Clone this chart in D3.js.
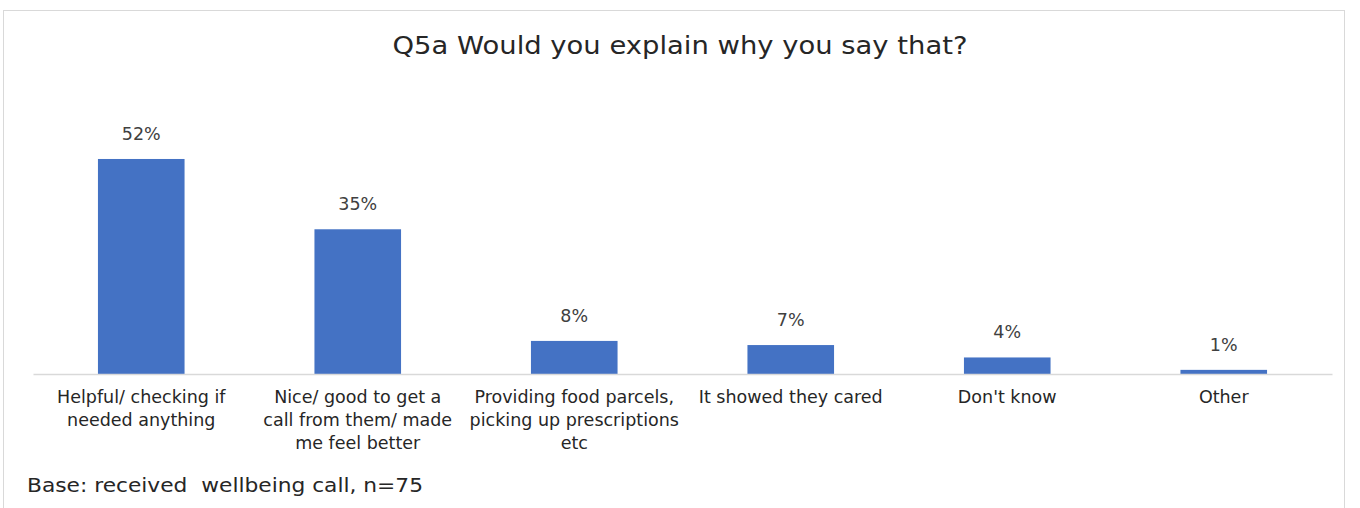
<!DOCTYPE html>
<html>
<head>
<meta charset="utf-8">
<script src="https://cdn.jsdelivr.net/npm/d3@7"></script>
<style>
  html, body { margin: 0; padding: 0; background: #fff; }
  svg { display: block; font-family: "DejaVu Sans", sans-serif; }
</style>
</head>
<body>
<svg id="chart" width="1360" height="508"></svg>
<script>
// Survey responses: reasons given for the wellbeing call rating
const categories = [
  ["Helpful/ checking if", "needed anything"],
  ["Nice/ good to get a", "call from them/ made", "me feel better"],
  ["Providing food parcels,", "picking up prescriptions", "etc"],
  ["It showed they cared"],
  ["Don't know"],
  ["Other"]
];
const values = [52, 35, 8, 7, 4, 1];
const valueLabels = ["52%", "35%", "8%", "7%", "4%", "1%"];
const titleText = "Q5a Would you explain why you say that?";
const footnote = "Base: received  wellbeing call, n=75";

const svg = d3.select("#chart");

// outer frame
svg.append("rect")
  .attr("x", 3.5).attr("y", 10.5)
  .attr("width", 1341).attr("height", 520)
  .attr("fill", "#fff").attr("stroke", "#d9d9d9").attr("stroke-width", 1);

const margin = { left: 33, right: 28 };
const width = 1360 - margin.left - margin.right;
const baseY = 374;

const x = d3.scaleBand()
  .domain(d3.range(categories.length))
  .range([margin.left, margin.left + width])
  .paddingInner(0.6)
  .paddingOuter(0.3);

const y = d3.scaleLinear()
  .domain([0, 60])
  .range([baseY, baseY - 60 * 4.135]);

// title
svg.append("text")
  .attr("x", 680).attr("y", 54)
  .attr("text-anchor", "middle")
  .attr("font-size", 25)
  .attr("textLength", 575)
  .attr("lengthAdjust", "spacingAndGlyphs")
  .attr("fill", "#262626")
  .text(titleText);

// bars
svg.selectAll("rect.bar")
  .data(values)
  .join("rect")
  .attr("class", "bar")
  .attr("x", (d, i) => x(i))
  .attr("width", x.bandwidth())
  .attr("y", d => y(d))
  .attr("height", d => y(0) - y(d))
  .attr("fill", "#4472c4");

// value labels
svg.selectAll("text.val")
  .data(values)
  .join("text")
  .attr("class", "val")
  .attr("x", (d, i) => x(i) + x.bandwidth() / 2)
  .attr("y", d => y(d) - 19)
  .attr("text-anchor", "middle")
  .attr("font-size", 17.5)
  .attr("fill", "#404040")
  .text((d, i) => valueLabels[i]);

// baseline axis
const xAxis = d3.axisBottom(x).tickSize(0).tickFormat("");
const axisG = svg.append("g")
  .attr("transform", `translate(0,${baseY})`)
  .call(xAxis);
axisG.select(".domain").attr("stroke", "#d9d9d9").attr("stroke-width", 1.5);

// category labels (wrapped lines)
const catG = svg.selectAll("text.cat")
  .data(categories)
  .join("text")
  .attr("class", "cat")
  .attr("x", (d, i) => x(i) + x.bandwidth() / 2)
  .attr("y", 403)
  .attr("text-anchor", "middle")
  .attr("font-size", 17.5)
  .attr("fill", "#262626");
catG.selectAll("tspan")
  .data((d, i) => d.map(line => ({ line, i })))
  .join("tspan")
  .attr("x", d => x(d.i) + x.bandwidth() / 2)
  .attr("dy", (d, j) => j === 0 ? 0 : 23)
  .text(d => d.line);

// footnote
svg.append("text")
  .attr("x", 27).attr("y", 492)
  .attr("font-size", 20)
  .attr("textLength", 396)
  .attr("lengthAdjust", "spacingAndGlyphs")
  .attr("fill", "#262626")
  .style("white-space", "pre")
  .text(footnote);
</script>
</body>
</html>
